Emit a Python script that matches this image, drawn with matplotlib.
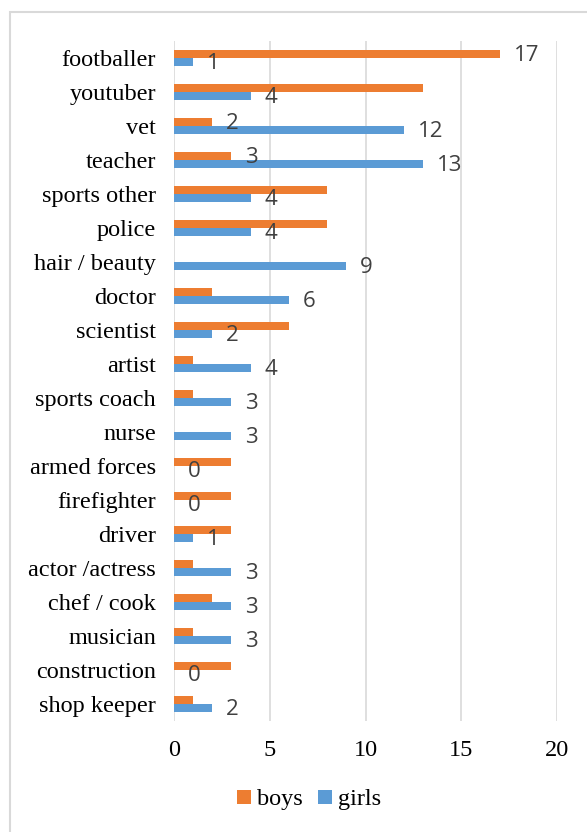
import numpy as np
import matplotlib.pyplot as plt
from matplotlib.patches import Rectangle

# careers named by children, counts per group
categories = ["footballer", "youtuber", "vet", "teacher", "sports other", "police",
              "hair / beauty", "doctor", "scientist", "artist", "sports coach", "nurse",
              "armed forces", "firefighter", "driver", "actor /actress", "chef / cook",
              "musician", "construction", "shop keeper"]
boys = [17, 13, 2, 3, 8, 8, 0, 2, 6, 1, 1, 0, 3, 3, 3, 1, 2, 1, 3, 1]
girls = [1, 4, 12, 13, 4, 4, 9, 6, 2, 4, 3, 3, 0, 0, 1, 3, 3, 3, 0, 2]
# only these boys bars carry a data label in the original
boys_labelled = ["footballer", "vet", "teacher"]
x_ticks = [0, 5, 10, 15, 20]

BOYS_COLOR = "#ED7D31"
GIRLS_COLOR = "#5B9BD5"
GRID_COLOR = "#D9D9D9"
LABEL_COLOR = "#404040"
SERIF = "Liberation Serif"
SANS = "Open Sans"

fig = plt.figure(figsize=(5.87, 8.32), dpi=100)
ax = fig.add_axes([174 / 587, 1 - 721 / 832, (557 - 174) / 587, (721 - 41) / 832])

y = np.arange(len(categories))
h = 0.24
ax.barh(y - h / 2, boys, height=h, color=BOYS_COLOR, label="boys", zorder=3)
ax.barh(y + h / 2, girls, height=h, color=GIRLS_COLOR, label="girls", zorder=3)

# data labels
for i, cat in enumerate(categories):
    ax.annotate(str(girls[i]), (girls[i], y[i] + h / 2 + 0.05), xytext=(10, 0),
                textcoords="offset points", ha="left", va="center",
                fontsize=16, family=SANS, color=LABEL_COLOR)
    if cat in boys_labelled:
        ax.annotate(str(boys[i]), (boys[i], y[i] - h / 2 + 0.05), xytext=(10, 0),
                    textcoords="offset points", ha="left", va="center",
                    fontsize=16, family=SANS, color=LABEL_COLOR)

ax.set_xlim(0, 20)
ax.set_ylim(len(categories) - 0.5, -0.5)
ax.set_xticks(x_ticks)
ax.set_yticks(y)
ax.set_yticklabels(categories)
for lab in ax.get_yticklabels() + ax.get_xticklabels():
    lab.set_fontfamily(SERIF)
    lab.set_fontsize(17.5)
    lab.set_color("black")
ax.tick_params(axis="both", length=0)
ax.tick_params(axis="y", pad=13)
ax.tick_params(axis="x", pad=14)

ax.grid(axis="x", color=GRID_COLOR, lw=1.2, zorder=0)
ax.grid(axis="y", visible=False)
for s in ax.spines.values():
    s.set_visible(False)

leg = fig.legend(loc="center", bbox_to_anchor=(309 / 587, 1 - 800 / 832), ncol=2,
                 frameon=False, prop={"family": SERIF, "size": 17.5},
                 handlelength=0.55, handleheight=0.55, handletextpad=0.25,
                 columnspacing=0.65)

# chart frame (runs off the right and bottom edge of the picture)
fig.patches.append(Rectangle((10 / 587, -0.05), 1.2, 1.05 - 12 / 832,
                             transform=fig.transFigure, fill=False,
                             edgecolor=GRID_COLOR, lw=1.5, clip_on=False))

fig.savefig("out.png", dpi=100)
